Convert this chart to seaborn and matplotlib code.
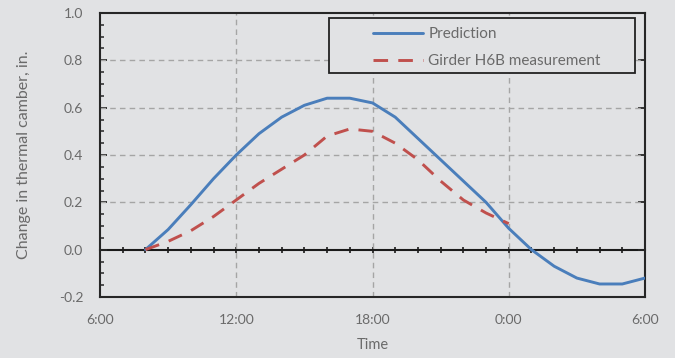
import matplotlib
matplotlib.use("Agg")
import matplotlib.pyplot as plt
import seaborn as sns
import pandas as pd
from matplotlib.ticker import MultipleLocator, FixedLocator
from matplotlib.patches import Rectangle

# ---- data (hours since 6:00) ----
pred_hours = [2, 3, 4, 5, 6, 7, 8, 9, 10, 11, 12, 13, 14, 15, 16, 17, 18, 19, 20, 21, 22, 23, 24]
pred_vals = [0.0, 0.085, 0.19, 0.30, 0.40, 0.49, 0.56, 0.61, 0.64, 0.64, 0.62, 0.56,
             0.47, 0.38, 0.29, 0.20, 0.09, 0.0, -0.07, -0.12, -0.145, -0.145, -0.12]
meas_hours = [2, 3, 4, 5, 6, 7, 8, 9, 10, 11, 12, 13, 14, 15, 16, 17, 18]
meas_vals = [0.0, 0.035, 0.08, 0.14, 0.21, 0.28, 0.34, 0.40, 0.48, 0.51, 0.50, 0.45,
             0.38, 0.29, 0.21, 0.155, 0.11]
xtick_pos = [0, 6, 12, 18, 24]
xtick_labels = ["6:00", "12:00", "18:00", "0:00", "6:00"]
ytick_vals = [-0.2, 0.0, 0.2, 0.4, 0.6, 0.8, 1.0]
series_names = ["Prediction", "Girder H6B measurement"]

pred_df = pd.DataFrame({"hour": pred_hours, "value": pred_vals})
meas_df = pd.DataFrame({"hour": meas_hours, "value": meas_vals})

sns.set_style("white")
plt.rcParams["font.family"] = ["Lato", "DejaVu Sans"]

bg = "#e1e2e4"
txt = "#6a6a6a"
fig = plt.figure(figsize=(6.75, 3.58), dpi=100, facecolor=bg)
ax = fig.add_axes([100/675, 61/358, 545/675, 284/358])
ax.set_facecolor(bg)

ax.set_xlim(0, 24)
ax.set_ylim(-0.2, 1.0)

# grid
for x in [6, 12, 18]:
    ax.axvline(x, color="#a5a5a5", lw=1, ls=(0, (4, 3)), zorder=1)
for y in [0.2, 0.4, 0.6, 0.8]:
    ax.axhline(y, color="#a5a5a5", lw=1, ls=(0, (4, 3)), zorder=1)

sns.lineplot(data=pred_df, x="hour", y="value", ax=ax, color="#4a7ebb", lw=2.1,
             label=series_names[0], zorder=3)
sns.lineplot(data=meas_df, x="hour", y="value", ax=ax, color="#c0504d", lw=2.1,
             label=series_names[1], zorder=3)
ax.lines[-1].set_dashes((5, 3.5))

for s in ax.spines.values():
    s.set_visible(True)
    s.set_color("#262626")
    s.set_linewidth(1.5)

ax.xaxis.set_major_locator(FixedLocator(xtick_pos))
ax.set_xticklabels(xtick_labels)
ax.yaxis.set_major_locator(FixedLocator(ytick_vals))
ax.set_yticklabels([f"{v:.1f}" for v in ytick_vals])
ax.yaxis.set_minor_locator(MultipleLocator(0.05))
ax.tick_params(axis="x", which="both", length=0, pad=12, labelsize=10, labelcolor=txt)
ax.tick_params(axis="y", which="major", direction="in", length=5, width=1.3,
               color="#262626", pad=12, labelsize=10, labelcolor=txt, left=True, right=True)
ax.tick_params(axis="y", which="minor", direction="in", length=3, width=1.1,
               color="#262626", left=True)

# zero line with hourly ticks
zero_loc = (0 - (-0.2)) / (1.0 - (-0.2))
sec = ax.secondary_xaxis(zero_loc)
sec.spines["bottom"].set_color("#1a1a1a")
sec.spines["bottom"].set_linewidth(1.5)
sec.xaxis.set_major_locator(MultipleLocator(6))
sec.xaxis.set_minor_locator(MultipleLocator(1))
sec.tick_params(which="both", direction="inout", length=5, width=1.2, color="#1a1a1a",
                labelbottom=False)

ax.set_xlabel("Time", fontsize=10.5, color=txt, labelpad=9)
ax.set_ylabel("Change in thermal camber, in.", fontsize=11.5, color=txt, labelpad=20)

# legend
ax.add_patch(Rectangle((0.420, 0.789), 0.562, 0.193, transform=ax.transAxes,
                       facecolor=bg, edgecolor="#222222", lw=1.3, zorder=4))
leg = ax.legend(loc="upper left", bbox_to_anchor=(0.475, 0.998), frameon=False,
                fontsize=11, handlelength=3.3, handletextpad=0.35, labelspacing=0.85,
                borderpad=0.4)
leg.set_zorder(5)
for t in leg.get_texts():
    t.set_color(txt)

fig.savefig("out.png", dpi=100, facecolor=bg)
